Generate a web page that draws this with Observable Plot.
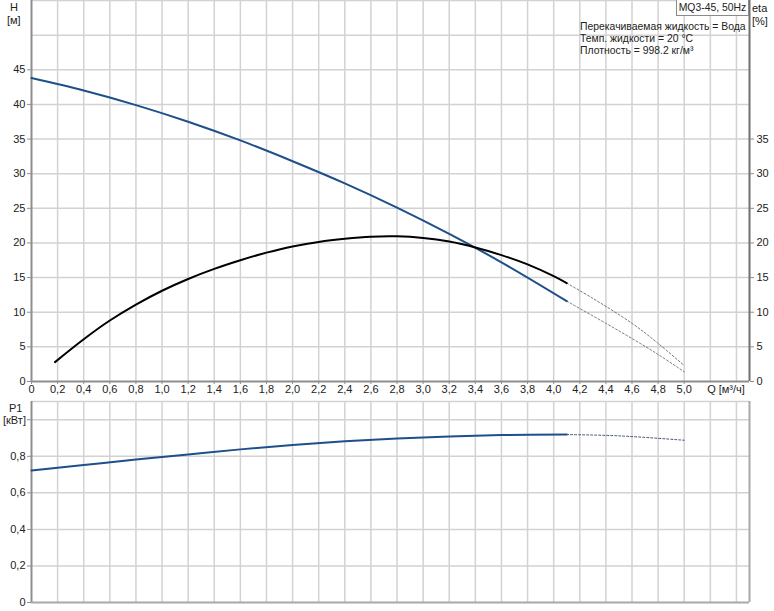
<!DOCTYPE html>
<html>
<head>
<meta charset="utf-8">
<script src="https://cdn.jsdelivr.net/npm/d3@7"></script>
<script src="https://cdn.jsdelivr.net/npm/@observablehq/plot@0.6"></script>
<style>
  body { margin: 0; background: #fff; font-family: "Liberation Sans", Arial, sans-serif; }
  #wrap { position: relative; width: 774px; height: 611px; overflow: hidden; }
  #topPanel, #bottomPanel { position: absolute; left: 0; }
  #topPanel { top: 0; }
  #bottomPanel { top: 400px; }
  .lbl { position: absolute; font-size: 11px; color: #222; line-height: 12px; white-space: nowrap; }
  .info { font-size: 10.4px; }
  #legendBox { position: absolute; left: 676px; top: 0px; width: 71px; height: 15px; border: 1px solid #8a8a8a; border-top: none; background: #fff; font-size: 10.4px; line-height: 15px; text-align: center; color: #222; white-space: nowrap; }
</style>
</head>
<body>
<div id="wrap">
  <div id="topPanel"></div>
  <div id="bottomPanel"></div>
  <div class="lbl" style="left:10px;top:1px;">H</div>
  <div class="lbl" style="left:7px;top:14px;">[м]</div>
  <div class="lbl" style="left:752px;top:2px;">eta</div>
  <div class="lbl" style="left:752px;top:15px;">[%]</div>
  <div class="lbl" style="left:9px;top:402px;">P1</div>
  <div class="lbl" style="left:3px;top:414px;">[кВт]</div>
  <div id="legendBox">MQ3-45, 50Hz</div>
  <div class="lbl info" style="left:580px;top:21px;">Перекачиваемая жидкость = Вода</div>
  <div class="lbl info" style="left:580px;top:33px;">Темп. жидкости = 20 °C</div>
  <div class="lbl info" style="left:580px;top:45px;">Плотность = 998.2 кг/м³</div>
</div>
<script>
// ---- data ----
const qH   = [0, 0.4, 0.8, 1.2, 1.6, 2.0, 2.4, 2.8, 3.2, 3.6, 4.1];
const H    = [43.8, 42.0, 39.9, 37.5, 34.8, 31.8, 28.6, 25.1, 21.3, 17.2, 11.6];
const qHx  = [4.1, 4.4, 4.6, 4.8, 5.0];
const Hx   = [11.6, 8.4, 6.2, 3.9, 1.4];

const qEta = [0.18, 0.4, 0.6, 0.8, 1.0, 1.2, 1.4, 1.6, 1.8, 2.0, 2.2, 2.4, 2.6, 2.8, 3.0, 3.2, 3.4, 3.6, 3.8, 4.0, 4.1];
const eta  = [2.8, 6.1, 8.8, 11.1, 13.1, 14.8, 16.25, 17.5, 18.6, 19.5, 20.15, 20.6, 20.9, 20.95, 20.72, 20.2, 19.35, 18.25, 16.9, 15.2, 14.2];
const qEtax = [4.1, 4.3, 4.6, 4.8, 5.0];
const etax  = [14.2, 12.0, 8.4, 5.5, 2.3];

const qP   = [0, 0.4, 0.8, 1.2, 1.6, 2.0, 2.4, 2.8, 3.2, 3.6, 4.1];
const P1   = [0.722, 0.752, 0.782, 0.810, 0.838, 0.862, 0.882, 0.898, 0.909, 0.916, 0.919];
const qPx  = [4.1, 4.5, 5.0];
const P1x  = [0.919, 0.912, 0.888];

const xTicks   = [0,0.2,0.4,0.6,0.8,1.0,1.2,1.4,1.6,1.8,2.0,2.2,2.4,2.6,2.8,3.0,3.2,3.4,3.6,3.8,4.0,4.2,4.4,4.6,4.8,5.0];
const xGrid    = [0.2,0.4,0.6,0.8,1.0,1.2,1.4,1.6,1.8,2.0,2.2,2.4,2.6,2.8,3.0,3.2,3.4,3.6,3.8,4.0,4.2,4.4,4.6,4.8,5.0,5.2,5.4];
const hTicks   = [0,5,10,15,20,25,30,35,40,45];
const hGrid    = [5,10,15,20,25,30,35,40,45,50,55];
const etaTicks = [0,5,10,15,20,25,30,35];
const pTicks   = [0,0.2,0.4,0.6,0.8,1.0];
const pLabels  = [0,0.2,0.4,0.6,0.8];
const pGrid    = [0.2,0.4,0.6,0.8,1.0,1.1];
const qLabel   = "Q [м³/ч]";
const qLabelPos = [5.32];

const fmt = d => d === 0 ? "0" : d.toFixed(1).replace(".", ",");
const pts = (xs, ys) => xs.map((x, i) => ({x, y: ys[i]}));

const GRID = "#d2d2d2", AXIS = "#8e8e8e";
const BLUE = "#1f4f8a";
const CURVE = "catmull-rom";
const style = {fontFamily: "Liberation Sans, Arial, sans-serif", fontSize: "11px", color: "#222", background: "transparent", overflow: "visible"};

const topChart = Plot.plot({
  width: 774, height: 400,
  marginLeft: 31, marginRight: 25, marginTop: 0, marginBottom: 19,
  style,
  x: {domain: [0, 5.5]},
  y: {domain: [0, 55]},
  marks: [
    Plot.gridX(xGrid, {stroke: GRID, strokeOpacity: 1, strokeWidth: 1.5}),
    Plot.gridY(hGrid, {stroke: GRID, strokeOpacity: 1, strokeWidth: 1.5}),
    Plot.ruleX([0], {stroke: AXIS, strokeWidth: 2}),
    Plot.ruleX([5.5], {stroke: "#707070", strokeWidth: 2}),
    Plot.ruleY([0], {stroke: AXIS, strokeWidth: 2}),
    Plot.axisX({ticks: xTicks, tickFormat: fmt, tickSize: 3, tickPadding: 1, label: null, stroke: AXIS}),
    Plot.axisX({ticks: qLabelPos, tickFormat: () => qLabel, tickSize: 0, tickPadding: 4, label: null}),
    Plot.axisY({ticks: hTicks, tickSize: 4, tickPadding: 2, label: null, stroke: AXIS}),
    Plot.axisY({anchor: "right", ticks: etaTicks, tickSize: 4, tickPadding: 3, label: null, stroke: AXIS}),
    Plot.line(pts(qHx, Hx), {x: "x", y: "y", stroke: "#555f70", strokeWidth: 0.8, strokeDasharray: "2,2", curve: CURVE}),
    Plot.line(pts(qEtax, etax), {x: "x", y: "y", stroke: "#555", strokeWidth: 0.8, strokeDasharray: "2,2", curve: CURVE}),
    Plot.line(pts(qH, H), {x: "x", y: "y", stroke: BLUE, strokeWidth: 2, curve: CURVE}),
    Plot.line(pts(qEta, eta), {x: "x", y: "y", stroke: "#000", strokeWidth: 2, curve: CURVE})
  ]
});
document.getElementById("topPanel").appendChild(topChart);

const bottomChart = Plot.plot({
  width: 774, height: 211,
  marginLeft: 31, marginRight: 25, marginTop: 1, marginBottom: 9,
  style,
  x: {domain: [0, 5.5], axis: null},
  y: {domain: [0, 1.1]},
  marks: [
    Plot.gridX(xGrid, {stroke: GRID, strokeOpacity: 1, strokeWidth: 1.5}),
    Plot.gridY(pGrid, {stroke: GRID, strokeOpacity: 1, strokeWidth: 1.5}),
    Plot.ruleX([0], {stroke: AXIS, strokeWidth: 2}),
    Plot.ruleX([5.5], {stroke: "#a8a8a8", strokeWidth: 2}),
    Plot.ruleY([0], {stroke: "#a8a8a8", strokeWidth: 2}),
    Plot.axisY({ticks: pTicks, tickFormat: d => pLabels.includes(d) ? fmt(d) : "", tickSize: 4, tickPadding: 2, label: null, stroke: AXIS}),
    Plot.line(pts(qPx, P1x), {x: "x", y: "y", stroke: "#2a3e5a", strokeWidth: 0.9, strokeDasharray: "2,2", curve: CURVE}),
    Plot.line(pts(qP, P1), {x: "x", y: "y", stroke: BLUE, strokeWidth: 2, curve: CURVE})
  ]
});
document.getElementById("bottomPanel").appendChild(bottomChart);
</script>
</body>
</html>
